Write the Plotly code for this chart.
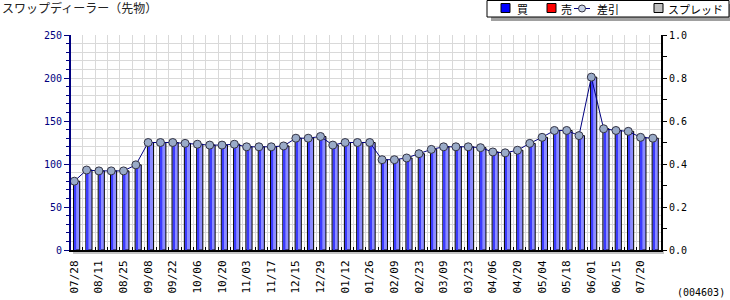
import plotly.graph_objects as go

# ---- data ----
tick_labels = ["07/28", "08/11", "08/25", "09/08", "09/22", "10/06", "10/20", "11/03",
               "11/17", "12/15", "12/29", "01/12", "01/26", "02/09", "02/23", "03/09",
               "03/23", "04/06", "04/20", "05/04", "05/18", "06/01", "06/15", "07/20"]
buy = [80, 93, 92, 92, 92, 99, 125, 125, 125, 124, 123, 122, 122, 123, 120, 120,
       120, 121, 130, 130, 132, 122, 125, 125, 125, 105, 105, 107, 112, 117, 120, 120,
       120, 119, 114, 113, 116, 124, 131, 139, 139, 133, 201, 141, 139, 138, 131, 130]
sell = [0] * len(buy)
net = [b - s for b, s in zip(buy, sell)]
x = list(range(len(buy)))
tick_pos = x[::2]

W, H = 730, 300
L, R, T, B = 71, 69, 35, 50
PW, PH = W - L - R, H - T - B


def px(xp):
    return (xp - L) / PW


def py(yp):
    return (H - B - yp) / PH


fig = go.Figure()

# main bar (light blue with black outline)
fig.add_trace(go.Bar(x=x, y=buy, offset=-0.06, width=0.5,
                     marker=dict(color="#8c8cff", line=dict(color="#000000", width=1)),
                     showlegend=False, hoverinfo="skip"))
# darker left strip of each bar
fig.add_trace(go.Bar(x=x, y=buy, offset=0.03, width=0.12,
                     marker=dict(color="#3a3aff", line=dict(width=0)),
                     showlegend=False, hoverinfo="skip"))
# sell bars (zero)
fig.add_trace(go.Bar(x=x, y=sell, offset=0.44, width=0.3,
                     marker=dict(color="#ff0000", line=dict(width=0)),
                     showlegend=False, hoverinfo="skip"))
# net line
fig.add_trace(go.Scatter(x=x, y=net, mode="lines+markers",
                         line=dict(color="#000080", width=1),
                         marker=dict(size=8, color="#9aabc8", line=dict(color="#333344", width=1)),
                         showlegend=False, hoverinfo="skip"))
# invisible trace on secondary axis to activate it
fig.add_trace(go.Scatter(x=[0], y=[0], yaxis="y2", mode="markers",
                         marker=dict(opacity=0), showlegend=False, hoverinfo="skip"))

mono = "DejaVu Sans Mono"
jp = "Noto Sans CJK JP"

fig.update_layout(
    width=W, height=H, autosize=False,
    margin=dict(l=L, r=R, t=T, b=B, pad=0),
    paper_bgcolor="white", plot_bgcolor="white",
    barmode="overlay",
    xaxis=dict(range=[-0.268, 47.66], tickmode="array", tickvals=tick_pos, ticktext=tick_labels,
               tickangle=-90, ticks="", showgrid=False, zeroline=False, automargin=False,
               showline=True, linecolor="#000000", linewidth=2, ticklabelstandoff=4,
               tickfont=dict(family=mono, size=11, color="#000000"),
               minor=dict(tick0=0.69, dtick=1, showgrid=True, gridcolor="#d9d9d9", gridwidth=1,
                          ticks="inside", ticklen=3, tickcolor="#000000")),
    yaxis=dict(range=[0, 250], dtick=50, tick0=0, showgrid=True, gridcolor="#d9d9d9",
               zeroline=False, showline=True, linecolor="#000080", linewidth=2, automargin=False,
               ticks="outside", ticklen=5, tickcolor="#000080",
               tickfont=dict(family=mono, size=10, color="#000080"),
               minor=dict(dtick=10, showgrid=True, gridcolor="#d9d9d9",
                          ticks="outside", ticklen=3, tickcolor="#000080")),
    yaxis2=dict(range=[0, 1], overlaying="y", side="right", dtick=0.2, tickformat=".1f",
                showgrid=False, zeroline=False, showline=True, linecolor="#000000", linewidth=2,
                automargin=False,
                ticks="outside", ticklen=4, tickcolor="#000000",
                tickfont=dict(family=mono, size=10, color="#000000"),
                minor=dict(dtick=0.1, ticks="outside", ticklen=4, tickcolor="#000000")),
)

shapes = []
annotations = []

# gray shadow under x-axis
shapes.append(dict(type="rect", xref="paper", yref="paper",
                   x0=px(73), x1=px(664), y0=py(251), y1=py(254),
                   fillcolor="#c4c4c4", line=dict(width=0), layer="below"))

# legend box with shadow
shapes.append(dict(type="rect", xref="paper", yref="paper",
                   x0=px(491), x1=px(734), y0=py(4), y1=py(21),
                   fillcolor="#a0a0a0", line=dict(width=0), layer="above"))
shapes.append(dict(type="rect", xref="paper", yref="paper",
                   x0=px(487), x1=px(729), y0=py(0.5), y1=py(17),
                   fillcolor="#ffffff", line=dict(color="#000000", width=1), layer="above"))

legend_sq = [(501, "#0000ff", "買", 522), (547, "#ff0000", "売", 566),
             (654, "#c0c0c0", "スプレッド", 695)]
for x0, col, txt, tx in legend_sq:
    shapes.append(dict(type="rect", xref="paper", yref="paper",
                       x0=px(x0), x1=px(x0 + 9), y0=py(3.5), y1=py(12.5),
                       fillcolor=col, line=dict(color="#000000", width=1), layer="above"))
    annotations.append(dict(xref="paper", yref="paper", x=px(tx), y=py(8.5), text=txt,
                            showarrow=False, xanchor="center", yanchor="middle",
                            font=dict(family=jp, size=11, color="#000000")))
# net legend symbol
shapes.append(dict(type="line", xref="paper", yref="paper",
                   x0=px(574), x1=px(590), y0=py(8.5), y1=py(8.5),
                   line=dict(color="#000080", width=1), layer="above"))
shapes.append(dict(type="circle", xref="paper", yref="paper",
                   x0=px(578.5), x1=px(585.5), y0=py(5), y1=py(12),
                   fillcolor="#c8d2e4", line=dict(color="#333344", width=1), layer="above"))
annotations.append(dict(xref="paper", yref="paper", x=px(607.5), y=py(8.5), text="差引",
                        showarrow=False, xanchor="center", yanchor="middle",
                        font=dict(family=jp, size=11, color="#000000")))

# title
annotations.append(dict(xref="paper", yref="paper", x=px(0), y=py(7.5),
                        text="スワップディーラー（先物）", showarrow=False,
                        xanchor="left", yanchor="middle",
                        font=dict(family=jp, size=12, color="#222222")))
# code label
annotations.append(dict(xref="paper", yref="paper", x=px(727), y=py(292),
                        text="(004603)", showarrow=False,
                        xanchor="right", yanchor="middle",
                        font=dict(family=mono, size=10, color="#000000")))

fig.update_layout(shapes=shapes, annotations=annotations)

fig.write_html("out.html")
